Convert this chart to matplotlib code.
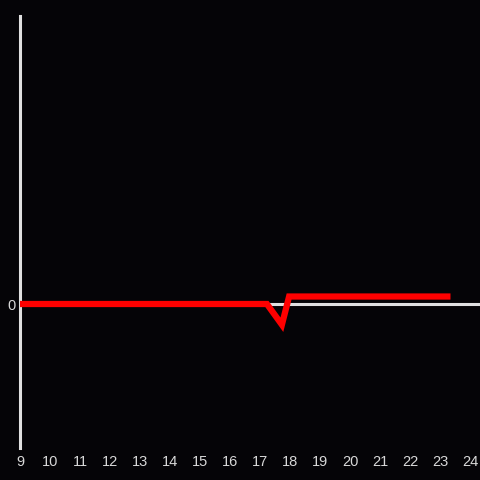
import matplotlib
matplotlib.use("Agg")
import matplotlib.pyplot as plt

x_vals = [9, 17.23, 17.73, 17.97, 23.35]
y_vals = [0, 0, -0.72, 0.26, 0.26]
x_ticks = list(range(9, 25))
y_ticks = [0]

bg = '#050407'
fig = plt.figure(figsize=(4.8, 4.8), dpi=100, facecolor=bg)
ax = fig.add_axes([20/480, 32/480, 460/480, 432/480])
ax.set_facecolor(bg)
ax.set_xlim(9, 9 + 460/30)
ax.set_ylim(-5, 10)

ax.axhline(0, color='#e0e0e0', lw=2.2, zorder=1)
ax.plot(x_vals, y_vals, color='#ff0000', lw=4.5, zorder=3,
        solid_joinstyle='miter', solid_capstyle='butt')

for s in ['top', 'right', 'bottom']:
    ax.spines[s].set_visible(False)
ax.spines['left'].set_color('#e0e0e0')
ax.spines['left'].set_linewidth(2.2)

ax.set_xticks(x_ticks)
ax.set_xticklabels([str(t) for t in x_ticks])
ax.set_yticks(y_ticks)
ax.set_yticklabels(['0'])
ax.tick_params(axis='both', length=0, colors='#d8d8d8', labelsize=10.5)
ax.tick_params(axis='x', pad=5)
ax.tick_params(axis='y', pad=3)
for lab in ax.get_xticklabels() + ax.get_yticklabels():
    lab.set_fontfamily('Liberation Sans')

fig.savefig('out.png', dpi=100, facecolor=bg)
